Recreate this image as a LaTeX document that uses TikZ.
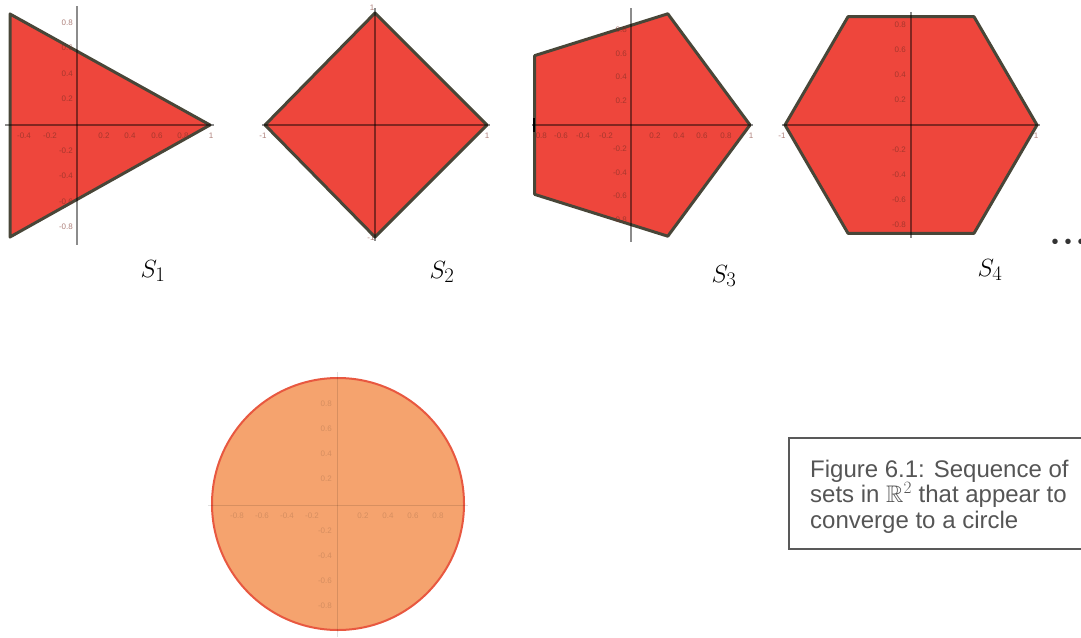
\documentclass[tikz,border=0pt]{standalone}
\usepackage{amssymb}
\usepackage{fontspec}
\newfontfamily\capfont{Liberation Sans}
\definecolor{polyfill}{RGB}{238,70,60}
\definecolor{polyedge}{RGB}{72,70,56}
\definecolor{ticktext}{RGB}{120,45,35}
\definecolor{circfill}{RGB}{245,163,110}
\definecolor{circedge}{RGB}{232,88,64}
\definecolor{captext}{RGB}{85,85,85}
\tikzset{
  shapefill/.style={fill=polyfill, draw=polyedge, line width=3pt, line join=round},
  axisline/.style={draw=black, opacity=0.45, line width=1.3pt},
  faintaxis/.style={draw=black, opacity=0.12, line width=1pt},
  ticklab/.style={font=\capfont\fontsize{8}{8}\selectfont, text=ticktext, opacity=0.6, inner sep=0pt},
  faintlab/.style={font=\capfont\fontsize{8}{8}\selectfont, text=black, opacity=0.13, inner sep=0pt},
  setlabel/.style={font=\fontsize{32}{32}\selectfont, inner sep=0pt},
  capbox/.style={draw=black!65, line width=1.2pt},
  captiontext/.style={font=\capfont\fontsize{24}{25.5}\selectfont, text=captext, align=left, inner sep=0pt, anchor=north west}
}
\begin{document}
\begin{tikzpicture}[x=1pt,y=-1pt]
\useasboundingbox (0,0) rectangle (1081,637);
\clip (0,0) rectangle (1081,637);

% ---------- S1 : triangle ----------
\draw[shapefill] (210,125) -- (10,14) -- (10,237) -- cycle;
\draw[axisline] (5,125) -- (214,125);
\draw[axisline] (77,6) -- (77,245);
\foreach \v/\y in {0.8/23,0.6/48,0.4/74,0.2/99,-0.2/151,-0.4/176,-0.6/202,-0.8/227}
  \node[ticklab, anchor=east] (s1y\y) at (73,\y) {\v};
\foreach \v/\x in {-0.4/24,-0.2/50,0.2/104,0.4/130,0.6/157,0.8/183}
  \node[ticklab] (s1x\x) at (\x,136) {\v};
\node[ticklab] (s1one) at (211,136) {1};
\node[setlabel] (S1) at (153,271) {$S_1$};

% ---------- S2 : square ----------
\draw[shapefill] (375,13) -- (487,125) -- (375,237) -- (265,125) -- cycle;
\draw[axisline] (262,125) -- (490,125);
\draw[axisline] (375,8) -- (375,241);
\node[ticklab] (s2t) at (372,8) {1};
\node[ticklab] (s2l) at (263,136) {-1};
\node[ticklab] (s2r) at (487,136) {1};
\node[ticklab] (s2b) at (371,238) {-1};
\node[setlabel] (S2) at (442,272) {$S_2$};

% ---------- S3 : pentagon ----------
\draw[shapefill] (750,125) -- (667.8,13.8) -- (534.7,55.6) -- (534.7,194.4) -- (667.8,236.2) -- cycle;
\draw[axisline] (532,125) -- (753,125);
\draw[axisline] (631,8) -- (631,242);
\draw[black, line width=2.2pt] (534,118) -- (534,132);
\foreach \v/\y in {0.8/30,0.6/54,0.4/77,0.2/101,-0.2/149,-0.4/173,-0.6/196,-0.8/220}
  \node[ticklab, anchor=east] (s3y\y) at (627,\y) {\v};
\foreach \v/\x in {-0.8/540,-0.6/561,-0.4/583,-0.2/606,0.2/655,0.4/679,0.6/702,0.8/726}
  \node[ticklab] (s3x\x) at (\x,136) {\v};
\node[ticklab] (s3one) at (751,136) {1};
\node[setlabel] (S3) at (724,276) {$S_3$};

% ---------- S4 : hexagon ----------
\draw[shapefill] (1037,125) -- (974,16.7) -- (848,16.7) -- (785,125) -- (848,233.3) -- (974,233.3) -- cycle;
\draw[axisline] (782,125) -- (1040,125);
\draw[axisline] (911,12) -- (911,238);
\foreach \v/\y in {0.8/25,0.6/50,0.4/75,0.2/100,-0.2/150,-0.4/175,-0.6/200,-0.8/225}
  \node[ticklab, anchor=east] (s4y\y) at (906,\y) {\v};
\node[ticklab] (s4l) at (782,136) {-1};
\node[ticklab] (s4r) at (1036,136) {1};
\node[setlabel] (S4) at (990,270) {$S_4$};
\node[font=\capfont\fontsize{20}{20}\selectfont, text=black!80, inner sep=0pt] (dots) at (1068,244) {•\hspace{6pt}•\hspace{6pt}•};

% ---------- limit : circle ----------
\draw[fill=circfill, draw=circedge, line width=2pt] (338,504) circle[radius=126];
\draw[faintaxis] (208,505) -- (468,505);
\draw[faintaxis] (337,372) -- (337,637);
\foreach \v/\y in {0.8/404,0.6/429,0.4/454,0.2/479,-0.2/531,-0.4/556,-0.6/581,-0.8/606}
  \node[faintlab, anchor=east] (cy\y) at (332,\y) {\v};
\foreach \v/\x in {-0.8/237,-0.6/262,-0.4/287,-0.2/312,0.2/363,0.4/388,0.6/413,0.8/438}
  \node[faintlab] (cx\x) at (\x,516) {\v};

% ---------- caption ----------
\draw[capbox] (789,438) rectangle (1100,549);
\node[captiontext] (cap) at (810,459.5) {Figure 6.1: Sequence of\\sets in $\mathbb{R}^2$ that appear to\\converge to a circle};
\end{tikzpicture}
\end{document}
